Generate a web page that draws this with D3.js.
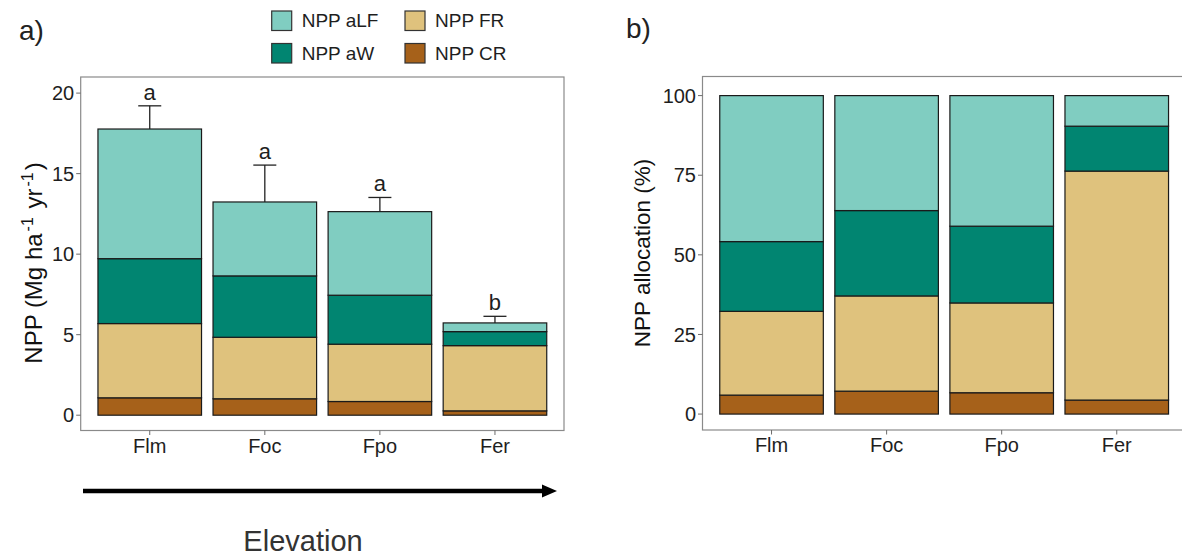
<!DOCTYPE html>
<html>
<head>
  <meta charset="utf-8">
  <style>
    body {
      margin: 0;
      background: #fff;
      font-family: "Liberation Sans", Arial, sans-serif;
    }
    .bar {
      stroke: #1a1a1a;
      stroke-width: 1.2px;
    }
    .frame {
      fill: none;
      stroke: #8a8a8a;
      stroke-width: 1.2px;
    }
    .tick-mark {
      stroke: #6b6b6b;
      stroke-width: 1px;
    }
    .tick-label {
      font-size: 20px;
      fill: #1e1e1e;
    }
  </style>
  <script src="https://d3js.org/d3.v7.min.js"></script>
</head>
<body>
  <script>
    // sites along the elevation gradient
    const sites = ["Flm", "Foc", "Fpo", "Fer"];

    // panel a: NPP components (Mg ha-1 yr-1), stacked bottom to top
    const nppCR = [1.08, 1.02, 0.85, 0.27];
    const nppFR = [4.61, 3.82, 3.56, 4.05];
    const nppAW = [4.03, 3.81, 3.04, 0.87];
    const nppALF = [8.05, 4.59, 5.19, 0.54];
    const nppSE = [1.44, 2.29, 0.88, 0.41];
    const sigLetters = ["a", "a", "a", "b"];

    // panel b: NPP allocation (%)
    const pctCR = [5.96, 7.2, 6.7, 4.4];
    const pctFR = [26.3, 29.9, 28.2, 71.9];
    const pctAW = [21.9, 26.8, 24.1, 14.1];
    const pctALF = [45.84, 36.1, 41.0, 9.6];

    const yTicksA = [0, 5, 10, 15, 20];
    const yTicksB = [0, 25, 50, 75, 100];

    const keys = ["CR", "FR", "aW", "aLF"];
    const colors = { CR: "#A6611A", FR: "#DFC27D", aW: "#018571", aLF: "#80CDC1" };
    const legendItems = [
      { key: "aLF", label: "NPP aLF", col: 0, row: 0 },
      { key: "aW", label: "NPP aW", col: 0, row: 1 },
      { key: "FR", label: "NPP FR", col: 1, row: 0 },
      { key: "CR", label: "NPP CR", col: 1, row: 1 }
    ];

    const width = 1182, height = 557;
    const svg = d3.select("body").append("svg")
      .attr("width", width)
      .attr("height", height);

    const tableA = sites.map((s, i) => ({ site: s, CR: nppCR[i], FR: nppFR[i], aW: nppAW[i], aLF: nppALF[i] }));
    const tableB = sites.map((s, i) => ({ site: s, CR: pctCR[i], FR: pctFR[i], aW: pctAW[i], aLF: pctALF[i] }));
    const stack = d3.stack().keys(keys);

    function drawPanel(opts) {
      const { left, right, top, bottom, domain, ticks, table } = opts;
      const x = d3.scaleBand().domain(sites).range([left, right])
        .paddingInner(0.1).paddingOuter(0.15);
      const y = d3.scaleLinear().domain(domain).range([bottom, top]);
      const g = svg.append("g");

      const layers = g.selectAll("g.layer")
        .data(stack(table))
        .join("g")
        .attr("class", "layer")
        .attr("fill", d => colors[d.key]);

      layers.selectAll("rect")
        .data(d => d)
        .join("rect")
        .attr("class", "bar")
        .attr("x", d => x(d.data.site))
        .attr("width", x.bandwidth())
        .attr("y", d => y(d[1]))
        .attr("height", d => y(d[0]) - y(d[1]));

      g.append("rect")
        .attr("class", "frame")
        .attr("x", left).attr("y", top)
        .attr("width", right - left).attr("height", bottom - top);

      // y axis
      g.selectAll("line.ytick").data(ticks).join("line")
        .attr("class", "tick-mark")
        .attr("x1", left - 4.5).attr("x2", left)
        .attr("y1", d => y(d)).attr("y2", d => y(d));
      g.selectAll("text.ylab").data(ticks).join("text")
        .attr("class", "tick-label")
        .attr("x", left - 6.5)
        .attr("y", d => y(d))
        .attr("dy", "0.36em")
        .attr("text-anchor", "end")
        .text(d => d);

      // x axis
      g.selectAll("line.xtick").data(sites).join("line")
        .attr("class", "tick-mark")
        .attr("x1", d => x(d) + x.bandwidth() / 2).attr("x2", d => x(d) + x.bandwidth() / 2)
        .attr("y1", bottom).attr("y2", bottom + 4.5);
      g.selectAll("text.xlab").data(sites).join("text")
        .attr("class", "tick-label")
        .attr("x", d => x(d) + x.bandwidth() / 2)
        .attr("y", bottom + 22)
        .attr("text-anchor", "middle")
        .text(d => d);

      return { x, y, g };
    }

    // ---- panel a
    const pa = drawPanel({
      left: 80.7, right: 564, top: 77, bottom: 430.5,
      domain: [-0.95, 21.0], ticks: yTicksA, table: tableA
    });

    const totals = tableA.map(d => d.CR + d.FR + d.aW + d.aLF);
    const cx = s => pa.x(s) + pa.x.bandwidth() / 2;
    const capW = pa.x.step() * 0.2;

    const err = pa.g.append("g").attr("stroke", "#222").attr("stroke-width", 1.3);
    err.selectAll("line.v").data(sites).join("line")
      .attr("x1", cx).attr("x2", cx)
      .attr("y1", (s, i) => pa.y(totals[i]))
      .attr("y2", (s, i) => pa.y(totals[i] + nppSE[i]));
    err.selectAll("line.h").data(sites).join("line")
      .attr("x1", s => cx(s) - capW / 2).attr("x2", s => cx(s) + capW / 2)
      .attr("y1", (s, i) => pa.y(totals[i] + nppSE[i]))
      .attr("y2", (s, i) => pa.y(totals[i] + nppSE[i]));

    pa.g.selectAll("text.sig").data(sites).join("text")
      .attr("x", cx)
      .attr("y", (s, i) => pa.y(totals[i] + nppSE[i] + 0.38))
      .attr("text-anchor", "middle")
      .attr("font-size", 22)
      .attr("fill", "#1e1e1e")
      .text((s, i) => sigLetters[i]);

    const titleA = svg.append("text")
      .attr("transform", "translate(42,263) rotate(-90)")
      .attr("text-anchor", "middle")
      .attr("font-size", 24)
      .attr("fill", "#111");
    titleA.append("tspan").text("NPP (Mg ha");
    titleA.append("tspan").attr("dy", -9).attr("dx", 2).attr("font-size", 16).text("-1");
    titleA.append("tspan").attr("dy", 9).attr("dx", 2).text(" yr");
    titleA.append("tspan").attr("dy", -9).attr("dx", 2).attr("font-size", 16).text("-1");
    titleA.append("tspan").attr("dy", 9).attr("dx", 2).text(")");

    // ---- panel b
    const pb = drawPanel({
      left: 702.5, right: 1185.8, top: 76.5, bottom: 430,
      domain: [-5, 106], ticks: yTicksB, table: tableB
    });

    svg.append("text")
      .attr("transform", "translate(650,253) rotate(-90)")
      .attr("text-anchor", "middle")
      .attr("font-size", 22.5)
      .attr("fill", "#111")
      .text("NPP allocation (%)");

    // panel labels
    svg.append("text").attr("x", 19).attr("y", 40).attr("font-size", 28).attr("fill", "#222").text("a)");
    svg.append("text").attr("x", 626).attr("y", 38).attr("font-size", 28).attr("fill", "#222").text("b)");

    // legend
    const legend = svg.append("g");
    const lg = legend.selectAll("g").data(legendItems).join("g")
      .attr("transform", d => `translate(${271.7 + d.col * 133.3},${11 + d.row * 32.5})`);
    lg.append("rect")
      .attr("width", 20).attr("height", 19.5)
      .attr("fill", d => colors[d.key])
      .attr("stroke", "#333").attr("stroke-width", 1.2);
    lg.append("text")
      .attr("x", 30).attr("y", 16)
      .attr("font-size", 19)
      .attr("fill", "#1e1e1e")
      .text(d => d.label);

    // elevation arrow
    svg.append("line")
      .attr("x1", 83).attr("x2", 545)
      .attr("y1", 491).attr("y2", 491)
      .attr("stroke", "#000").attr("stroke-width", 4.5);
    svg.append("path")
      .attr("d", "M542,484.5 L557,491 L542,497.5 Z")
      .attr("fill", "#000");
    svg.append("text")
      .attr("x", 303).attr("y", 551)
      .attr("text-anchor", "middle")
      .attr("font-size", 29)
      .attr("fill", "#333")
      .text("Elevation");
  </script>
</body>
</html>
